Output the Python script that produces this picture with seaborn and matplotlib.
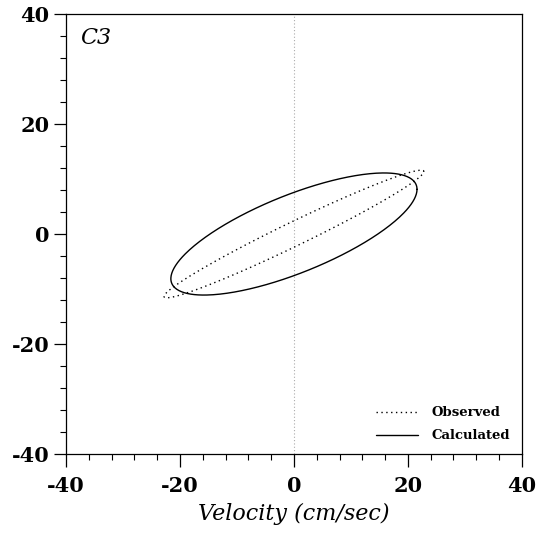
import numpy as np
import pandas as pd
import matplotlib
matplotlib.use("Agg")
import matplotlib.pyplot as plt
import seaborn as sns

# Tidal-ellipse parameters (cm/sec, degrees)
series = ["Observed", "Calculated"]
u_amplitude = [22.8, 21.6]
v_amplitude = [11.6, 11.1]
phase_lag = [12.0, 43.0]

x_ticks = [-40, -20, 0, 20, 40]
y_ticks = [-40, -20, 0, 20, 40]
panel_label = "C3"
x_label = "Velocity (cm/sec)"

sns.set_theme(style="white")
plt.rcParams["font.family"] = ["DejaVu Serif"]
plt.rcParams["axes.unicode_minus"] = False
plt.rcParams["text.color"] = "black"
plt.rcParams["xtick.color"] = "black"
plt.rcParams["ytick.color"] = "black"
plt.rcParams["axes.labelcolor"] = "black"

rows = []
theta = np.linspace(0, 2 * np.pi, 361)
for name, a, b, ph in zip(series, u_amplitude, v_amplitude, phase_lag):
    u = a * np.cos(theta)
    v = b * np.cos(theta - np.deg2rad(ph))
    for i, (uu, vv) in enumerate(zip(u, v)):
        rows.append({"series": name, "order": i, "u": uu, "v": vv})
df = pd.DataFrame(rows)

fig = plt.figure(figsize=(5.38, 5.35), dpi=100)
ax = fig.add_axes([0.1227, 0.1514, 0.8473, 0.8224])

ax.axvline(0, color="#aaaaaa", lw=0.8, ls=(0, (1, 2)), zorder=0)

sns.lineplot(data=df, x="u", y="v", hue="series", style="series",
             palette={"Observed": "black", "Calculated": "black"},
             dashes={"Observed": (1, 2.5), "Calculated": ""},
             sort=False, estimator=None,
             lw=1.0, ax=ax, legend=True)

ax.set_xlim(-40, 40)
ax.set_ylim(-40, 40)
ax.set_xticks(x_ticks)
ax.set_yticks(y_ticks)
ax.set_xticks(np.arange(-40, 41, 4), minor=True)
ax.set_yticks(np.arange(-40, 41, 4), minor=True)
ax.tick_params(axis="both", which="major", direction="out", length=9, width=0.9,
               labelsize=15, bottom=True, left=True, top=False, right=False, color="black",
               labelcolor="black")
ax.tick_params(axis="both", which="minor", direction="out", length=4, width=0.8,
               bottom=True, left=True, top=False, right=False, color="black")
for lab in ax.get_xticklabels() + ax.get_yticklabels():
    lab.set_fontweight("bold")
ax.tick_params(axis="x", pad=7)
ax.tick_params(axis="y", pad=3)

for s in ax.spines.values():
    s.set_color("black")
    s.set_linewidth(0.9)

ax.set_xlabel(x_label, fontsize=16, style="italic", labelpad=5, color="black")
ax.set_ylabel("")

ax.text(0.03, 0.97, panel_label, transform=ax.transAxes, fontsize=16,
        style="italic", ha="left", va="top", color="black")

leg = ax.legend(loc="lower right", frameon=False, fontsize=9.5, handlelength=3.2,
                handletextpad=1.0, borderaxespad=0.5, labelspacing=0.75)
for t in leg.get_texts():
    t.set_fontweight("bold")
    t.set_color("black")

fig.savefig("out.png", dpi=100)
